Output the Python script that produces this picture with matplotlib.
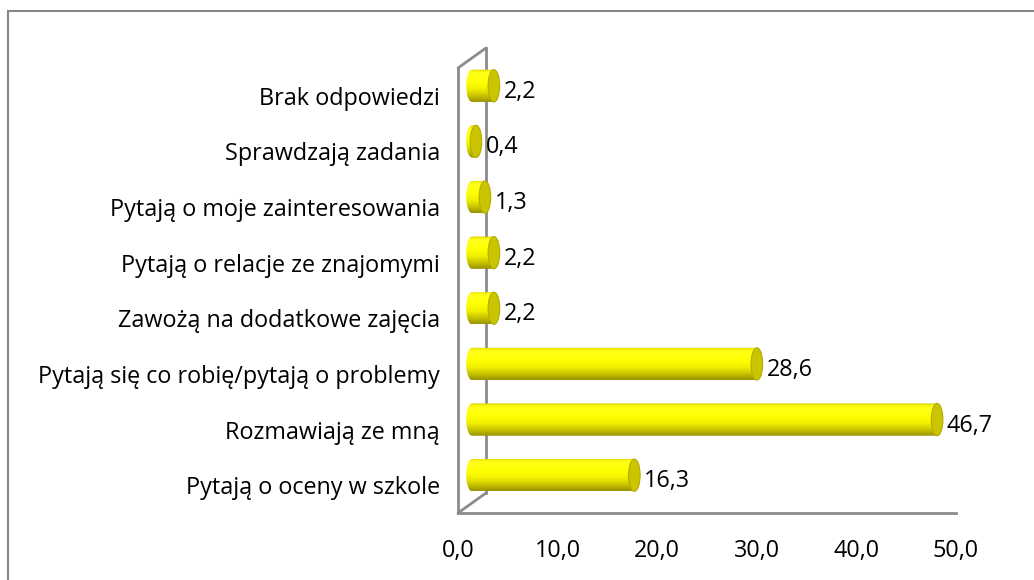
import numpy as np
import matplotlib.pyplot as plt
import matplotlib.transforms as mtransforms
from matplotlib.path import Path
from matplotlib.patches import PathPatch, Ellipse, Rectangle, ConnectionPatch
from matplotlib.colors import LinearSegmentedColormap

# dane (od dołu do góry)
categories = [
    "Pytają o oceny w szkole",
    "Rozmawiają ze mną",
    "Pytają się co robię/pytają o problemy",
    "Zawożą na dodatkowe zajęcia",
    "Pytają o relacje ze znajomymi",
    "Pytają o moje zainteresowania",
    "Sprawdzają zadania",
    "Brak odpowiedzi",
]
values = [16.3, 46.7, 28.6, 2.2, 2.2, 1.3, 0.4, 2.2]
xticks = [0, 10, 20, 30, 40, 50]

plt.rcParams['font.family'] = ['Open Sans', 'DejaVu Sans']
fs = 16.8
gray = '#8c8c8c'

fig = plt.figure(figsize=(10.34, 5.8), dpi=100)
ax = fig.add_axes([458 / 1034, 67 / 580, 498 / 1034, 445 / 580])

# przesunięcie "w głąb" wykresu 3D
half_depth = mtransforms.ScaledTranslation(0.14, 0.10, fig.dpi_scale_trans)
full_depth = mtransforms.ScaledTranslation(0.28, 0.20, fig.dpi_scale_trans)
label_shift = mtransforms.ScaledTranslation(0.14, 0.04, fig.dpi_scale_trans)
bar_tr = ax.transData + half_depth

cmap = LinearSegmentedColormap.from_list(
    'cyl',
    [(0.0, '#9a9300'), (0.18, '#c8c200'), (0.4, '#f2f000'),
     (0.6, '#ffff00'), (0.88, '#ffff1a'), (0.95, '#f4f000'), (1.0, '#cfc900')])
grad = np.linspace(0, 1, 64).reshape(-1, 1)

h = 0.58   # wysokość walca
w = 0.58   # półszerokość elipsy końca

for i, v in enumerate(values):
    t = np.linspace(np.pi / 2, 3 * np.pi / 2, 40)
    left = np.column_stack([w * np.cos(t), i + h / 2 * np.sin(t)])
    t2 = np.linspace(-np.pi / 2, np.pi / 2, 40)
    right = np.column_stack([v + w * np.cos(t2), i + h / 2 * np.sin(t2)])
    verts = np.vstack([left, right, left[:1]])
    patch = PathPatch(Path(verts, closed=True), transform=bar_tr,
                      facecolor='none', edgecolor='none', zorder=3)
    ax.add_patch(patch)
    im = ax.imshow(grad, extent=(-w, v + w, i - h / 2, i + h / 2),
                   origin='lower', aspect='auto', cmap=cmap,
                   transform=bar_tr, zorder=3, interpolation='bilinear')
    im.set_clip_path(patch)
    cap = Ellipse((v, i), 2 * w, h, transform=bar_tr, facecolor='#cbc400',
                  edgecolor='#b3ad00', lw=0.8, zorder=4)
    ax.add_patch(cap)
    ax.text(v + w + 0.4, i, f"{v:.1f}".replace('.', ','),
            transform=ax.transData + label_shift,
            va='center', ha='left', fontsize=fs, zorder=5)

ax.set_xlim(0, 50)
ax.set_ylim(-0.5, len(categories) - 0.5)
ax.set_xticks(xticks)
ax.set_xticklabels([f"{x:.1f}".replace('.', ',') for x in xticks])
ax.set_yticks(range(len(categories)))
ax.set_yticklabels(categories)
ax.tick_params(axis='both', length=0, labelsize=fs)
ax.tick_params(axis='y', pad=13)
ax.tick_params(axis='x', pad=18.5)
ax.patch.set_alpha(0)

for s in ['top', 'right']:
    ax.spines[s].set_visible(False)
for s in ['left', 'bottom']:
    ax.spines[s].set_color(gray)
    ax.spines[s].set_linewidth(2)

# tylna ściana
ax.plot([0, 0], [0, 1], transform=ax.transAxes + full_depth, color=gray,
        lw=2, clip_on=False, zorder=1)
for yy in (0, 1):
    ax.add_artist(ConnectionPatch(xyA=(0, yy), coordsA=ax.transAxes,
                                  xyB=(0, yy), coordsB=ax.transAxes + full_depth,
                                  color=gray, lw=2, zorder=1))

fig.add_artist(Rectangle((8 / 1034, -0.1), 1.2, 1 - 11 / 580 + 0.1,
                         transform=fig.transFigure, fill=False,
                         edgecolor='#868686', lw=1.5))

fig.savefig('out.png', dpi=100)
